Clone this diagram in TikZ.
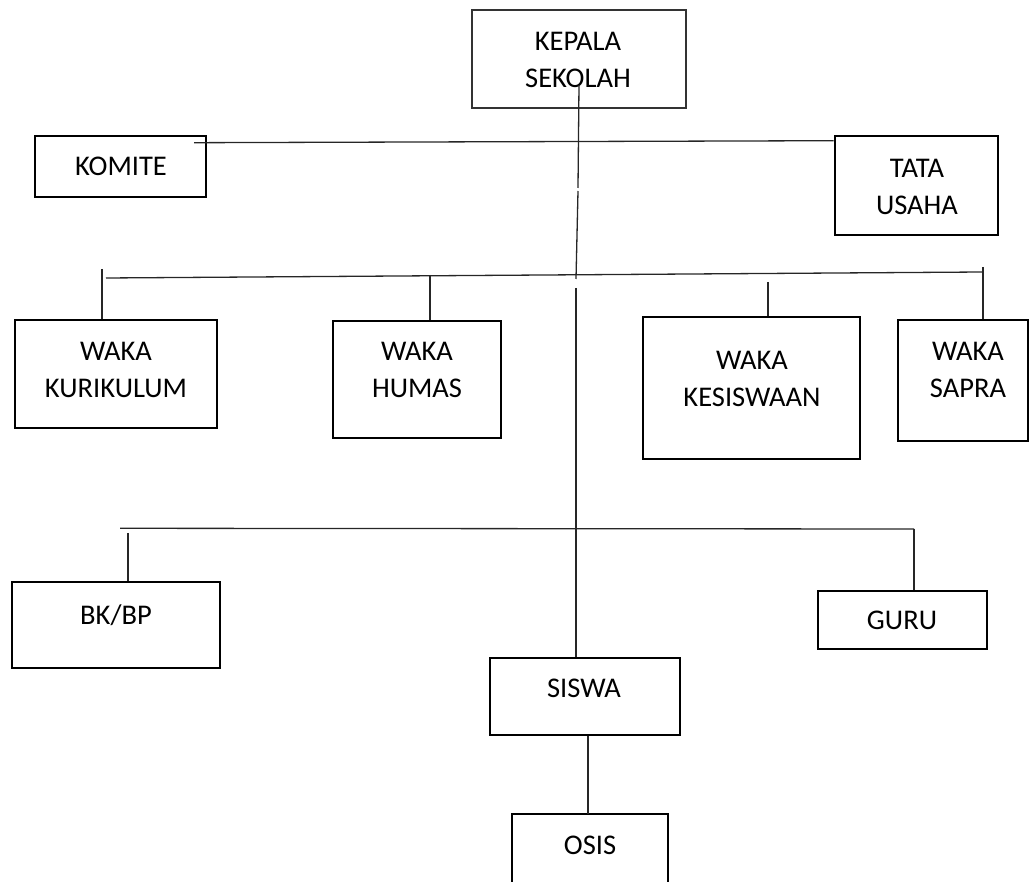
\documentclass[tikz,border=0pt]{standalone}
\usepackage{fontspec}
\setmainfont{Carlito}
\begin{document}
\begin{tikzpicture}[x=1pt,y=-1pt,
  box/.style={draw=black,line width=2.9pt,rectangle,inner sep=0pt},
  thinbox/.style={draw=black!80,line width=1.3pt,rectangle,inner sep=0pt},
  lbl/.style={inner sep=0pt,anchor=base,align=center,font=\fontsize{28.5}{37}\selectfont},
  conn/.style={draw=black!85,line width=1.3pt}]
\useasboundingbox (0,0) rectangle (1029,882);

% boxes
\node[thinbox,minimum width=214pt,minimum height=98pt] (kepala) at (579,59) {};
\node[box,minimum width=171pt,minimum height=61pt] (komite) at (120.5,166.5) {};
\node[box,minimum width=163pt,minimum height=99pt] (tata) at (916.5,185.5) {};
\node[box,minimum width=202pt,minimum height=108pt] (kur) at (116,374) {};
\node[box,minimum width=168pt,minimum height=117pt] (humas) at (417,379.5) {};
\node[box,minimum width=217pt,minimum height=142pt] (kesis) at (751.5,388) {};
\node[box,minimum width=130pt,minimum height=121pt] (sapra) at (963,380.5) {};
\node[box,minimum width=208pt,minimum height=86pt] (bk) at (116,625) {};
\node[box,minimum width=169pt,minimum height=58pt] (guru) at (902.5,620) {};
\node[box,minimum width=190pt,minimum height=77pt] (siswa) at (585,696.5) {};
\node[box,minimum width=156pt,minimum height=90pt] (osis) at (590,859) {};

% labels (anchor = baseline of the last line)
\node[lbl] (kepalaT) at (578,87.2) {KEPALA\\SEKOLAH};
\node[lbl] (komiteT) at (121,175.2) {KOMITE};
\node[lbl] (tataT) at (917,214.2) {TATA\\USAHA};
\node[lbl] (kurT) at (116,397.2) {WAKA\\KURIKULUM};
\node[lbl] (humasT) at (417,397.2) {WAKA\\HUMAS};
\node[lbl] (kesisT) at (752,406.2) {WAKA\\KESISWAAN};
\node[lbl] (sapraT) at (968,397.2) {WAKA\\SAPRA};
\node[lbl] (bkT) at (116,624.2) {BK/BP};
\node[lbl] (guruT) at (902,629.2) {GURU};
\node[lbl] (siswaT) at (584,697.2) {SISWA};
\node[lbl] (osisT) at (590,854.2) {OSIS};

% connector points
\coordinate (m1) at (579,85);
\coordinate (m2) at (578,188);
\coordinate (m3) at (578,191);
\coordinate (m4) at (576,279);
\coordinate (m5) at (576,288);
\coordinate (l1a) at (194,142.7);
\coordinate (l2a) at (106,278);
\coordinate (l2b) at (982,272);
\coordinate (kurtop) at (102,269);
\coordinate (humastop) at (430,275);
\coordinate (kesistop) at (768,282);
\coordinate (sapratop) at (983,267);
\coordinate (l3a) at (120,528.3);
\coordinate (l3b) at (914,529);
\coordinate (bktop) at (128,533);
\coordinate (osistop) at (588,814);

% connectors
\draw[conn] (m1) -- (m2);
\draw[conn] (m3) -- (m4);
\draw[conn] (m5) -- (m5 |- siswa.north);
\draw[conn] (l1a) -- (tata.west |- 0,140.7);
\draw[conn] (l2a) -- (l2b);
\draw[conn] (kurtop) -- (kurtop |- kur.north);
\draw[conn] (humastop) -- (humastop |- humas.north);
\draw[conn] (kesistop) -- (kesistop |- kesis.north);
\draw[conn] (sapratop) -- (sapratop |- sapra.north);
\draw[conn] (l3a) -- (l3b);
\draw[conn] (l3b) -- (l3b |- guru.north);
\draw[conn] (bktop) -- (bktop |- bk.north);
\draw[conn] (siswa.south -| osistop) -- (osistop);
\end{tikzpicture}
\end{document}
